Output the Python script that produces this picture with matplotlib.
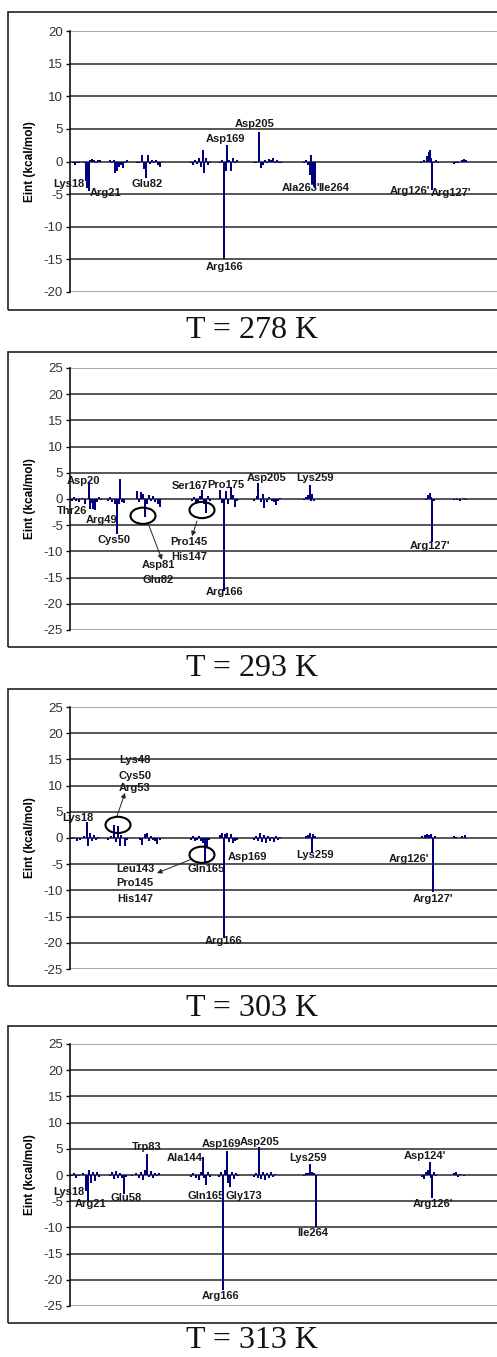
import matplotlib
matplotlib.use("Agg")
import matplotlib.pyplot as plt
from matplotlib.patches import Ellipse, Rectangle

plt.rcParams["font.family"] = ["Liberation Sans", "DejaVu Sans"]
plt.rcParams["axes.unicode_minus"] = False

# Residue slot positions (sequence order) and interaction energies, one set per temperature
pos_278 = [3, 5, 7, 9, 14, 16, 17, 19, 20, 22, 24, 26, 28, 30,
           40, 42, 44, 45, 47, 49, 51, 53, 55, 57,
           67, 69, 72, 74, 76, 78, 80, 82, 84, 86, 88, 90,
           121, 123, 125, 127, 129, 131, 133, 134, 136, 138, 140,
           150, 152, 154, 156, 157, 159, 161, 163, 165, 167,
           184, 186, 189, 191, 193, 195, 197, 199, 201, 203, 205, 207, 209, 211,
           234, 236, 238, 240, 241, 242, 244, 245,
           351, 354, 357, 359, 360, 361, 362, 364, 366, 368,
           384, 386, 388, 392, 394, 396]
val_278 = [-0.3, -0.5, -0.3, -0.2, -0.3, -3.0, -4.0, -4.5, 0.3, 0.4, 0.3, -0.3, 0.2, 0.3,
           0.3, -0.3, 0.3, -1.8, -1.5, -0.8, -0.5, -1.0, -0.3, 0.2,
           -0.2, -0.3, 1.0, -1.2, -2.6, 1.0, -0.4, 0.3, -0.2, 0.2, -0.5, -0.8,
           -0.3, -0.5, 0.3, -0.4, 0.5, -0.8, 1.8, -1.7, 0.5, -0.6, -0.3,
           -0.3, 0.3, -15.0, -1.5, 2.5, 0.3, -1.5, 0.6, -0.3, 0.2,
           -0.2, -0.3, 4.5, -1.0, -0.5, 0.3, -0.2, 0.4, 0.3, 0.6, -0.3, 0.2, -0.3, -0.2,
           -0.3, 0.2, -0.5, -2.0, 1.0, -3.5, -3.8, -4.0,
           -0.2, 0.3, 0.8, 1.5, 1.8, 0.6, -4.3, -0.3, 0.2, -0.2,
           -0.4, -0.3, -0.2, 0.2, 0.4, 0.2]

pos_293 = [2, 4, 6, 9, 12, 15, 19, 20, 22, 23, 25, 27, 29, 31,
           38, 40, 42, 45, 47, 49, 50, 52, 54,
           67, 69, 71, 73, 75, 77, 79, 81, 83, 85, 88, 90,
           122, 124, 126, 128, 130, 132, 134, 136, 138, 140,
           150, 152, 154, 156, 158, 161, 163, 165, 167,
           184, 187, 188, 191, 193, 194, 197, 199, 202, 204, 206, 208, 210,
           234, 236, 238, 240, 241, 242, 244,
           356, 358, 360, 361, 362, 364,
           384, 387, 390, 394, 396]
val_293 = [-0.3, 0.3, -0.3, -0.5, 0.2, -1.0, 3.2, -2.0, -0.8, -2.0, -2.1, -0.5, 0.3, -0.2,
           -0.3, 0.3, -0.5, -1.0, -6.7, -1.0, 3.8, -0.5, -0.8,
           1.5, -0.5, 1.3, 1.0, -3.4, -1.0, 0.8, -0.3, 0.5, -0.5, -1.0, -1.5,
           -0.3, 0.3, -0.5, -0.8, 0.5, 1.7, -1.0, -2.7, 0.5, -0.3,
           1.7, -0.8, -17.5, 1.5, -1.0, 2.2, 0.8, -1.5, -0.3,
           -0.3, 0.5, 3.0, -0.5, 1.0, -1.8, -0.5, 0.3, -0.3, -0.5, -1.2, -0.3, 0.2,
           -0.2, 0.3, 0.8, 2.7, -0.3, 1.0, -0.3,
           -0.2, 0.8, 1.2, 0.3, -8.2, -0.3,
           -0.2, -0.2, -0.3, 0.2, -0.2]

pos_303 = [2, 4, 7, 10, 14, 17, 18, 20, 22, 24, 26, 28,
           38, 41, 44, 46, 48, 50, 51, 55, 57,
           70, 72, 75, 77, 79, 81, 83, 85, 87, 90,
           121, 123, 125, 127, 129, 131, 133, 135, 137, 139,
           150, 152, 154, 155, 157, 159, 161, 163, 165, 167,
           184, 186, 188, 190, 192, 194, 196, 198, 200, 202, 204, 206, 208, 210,
           236, 238, 240, 242, 243, 245,
           352, 355, 357, 359, 361, 363, 365,
           384, 386, 392, 395]
val_303 = [-0.2, 0.2, -0.5, -0.3, 0.3, 3.0, -1.5, 1.0, -0.5, 0.5, -0.3, 0.2,
           -0.3, 0.3, 2.5, -0.8, 2.2, -1.5, 0.5, -1.6, -0.3,
           -0.3, -1.3, 0.8, 1.0, -0.5, 0.3, -0.3, -0.5, -1.2, -0.3,
           -0.3, 0.3, -0.5, -0.3, 0.3, -0.5, -1.0, -4.8, -2.0, -0.3,
           0.5, 1.0, -19.0, 0.8, 1.0, -0.8, 0.8, -1.0, -0.5, -0.3,
           -0.3, 0.3, -0.5, 1.0, -0.8, 0.5, -1.0, 0.3, -0.5, 0.2, -0.8, 0.3, -0.3, 0.2,
           0.3, 0.5, 1.0, -2.8, 0.8, 0.3,
           0.3, 0.5, 0.8, 0.5, 0.8, -10.3, 0.3,
           0.4, 0.2, 0.4, 0.6]

pos_313 = [2, 4, 6, 9, 13, 16, 18, 19, 21, 23, 25, 27, 29,
           40, 42, 44, 46, 48, 50, 52, 54, 56,
           62, 66, 69, 71, 73, 75, 77, 79, 81, 83, 85, 87, 89,
           121, 123, 126, 129, 131, 133, 134, 136, 138, 140,
           149, 151, 153, 155, 157, 158, 160, 162, 164, 166, 168,
           184, 186, 188, 189, 191, 193, 195, 197, 199, 201, 203, 205,
           234, 236, 238, 240, 242, 244, 246,
           352, 354, 356, 358, 360, 361, 362, 364, 366,
           384, 386, 388, 390, 394]
val_313 = [-0.2, 0.3, -0.5, -0.2, 0.3, -3.0, -5.0, 1.0, -1.5, 0.5, -1.2, 0.5, -0.3,
           -0.2, 0.5, -0.8, 0.8, -0.5, 0.3, -0.5, -3.6, -0.3,
           -0.2, 0.3, -0.5, 0.5, -1.0, 1.0, 4.0, -0.3, 0.8, -0.5, 0.3, -0.2, 0.3,
           -0.3, 0.3, -0.5, -1.0, 0.5, 3.4, -0.5, -2.0, 0.5, -0.3,
           -0.3, 0.5, -22.0, 1.0, 4.6, -1.5, -2.2, 0.5, -0.8, 0.3, -0.2,
           -0.3, 0.3, -0.5, 5.3, -0.8, 0.5, -1.0, 0.3, -0.5, 0.5, -0.3, 0.2,
           -0.2, 0.4, 0.4, 2.1, 0.6, 0.3, -10.0,
           -0.3, -0.8, 0.5, 1.0, 2.5, -0.5, -4.3, 0.5, -0.2,
           0.3, 0.5, -0.3, 0.2, -0.2]

temps = ["278", "293", "303", "313"]
y_limits = [20, 25, 25, 25]

# Residue labels: (name, slot, energy)
labels_278 = [("Lys18", -1, -3.4), ("Arg21", 36, -4.8), ("Glu82", 77, -3.4),
              ("Asp169", 155, 3.5), ("Arg166", 155, -16.1), ("Asp205", 185, 5.8),
              ("Ala263'", 231, -4.0), ("Ile264", 264, -4.0),
              ("Arg126'", 340, -4.5), ("Arg127'", 381, -4.8)]
labels_293 = [("Asp20", 13, 3.4), ("Thr26", 2, -2.2), ("Arg49", 32, -4.0),
              ("Cys50", 44, -7.8), ("Asp81", 88, -12.6), ("Glu82", 88, -15.5),
              ("Ser167", 120, 2.5), ("Pro175", 156, 2.7), ("Pro145", 119, -8.2),
              ("His147", 119, -11.1), ("Arg166", 155, -17.7), ("Asp205", 197, 4.0),
              ("Lys259", 245, 4.0), ("Arg127'", 360, -9.0)]
labels_303 = [("Lys18", 8, 3.8), ("Lys48", 65, 14.9), ("Cys50", 65, 11.8),
              ("Arg53", 65, 9.5), ("Leu143", 65, -5.9), ("Pro145", 65, -8.6),
              ("His147", 65, -11.6), ("Gln165", 136, -5.9), ("Asp169", 177, -3.6),
              ("Arg166", 154, -19.7), ("Lys259", 245, -3.2),
              ("Arg126'", 339, -4.0), ("Arg127'", 363, -11.6)]
labels_313 = [("Lys18", -1, -3.2), ("Arg21", 21, -5.5), ("Glu58", 56, -4.4),
              ("Trp83", 77, 5.3), ("Ala144", 115, 3.2), ("Gln165", 136, -4.0),
              ("Asp169", 151, 5.9), ("Gly173", 174, -4.0), ("Arg166", 151, -23.1),
              ("Asp205", 190, 6.3), ("Lys259", 238, 3.2), ("Ile264", 243, -11.1),
              ("Asp124'", 355, 3.6), ("Arg126'", 363, -5.5)]

# Circled groups and arrows pointing at their labels: (centre, arrow tail, arrow head)
circles_293 = [((73, -3.2), (78, -4.6), (92, -11.6)),
               ((132, -2.1), (127, -4.2), (122, -7.1))]
circles_303 = [((48, 2.5), (47, 4.2), (55, 8.6)),
               ((132, -3.2), (122, -4.0), (87, -6.7))]

positions = [pos_278, pos_293, pos_303, pos_313]
values = [val_278, val_293, val_303, val_313]
labels = [labels_278, labels_293, labels_303, labels_313]
circles = [[], circles_293, circles_303, []]

W, H = 497, 1357
fig = plt.figure(figsize=(W / 100, H / 100), dpi=100)
fig.patch.set_facecolor("white")

# pixel layout of each panel: (axes top, axes bottom, box top, box bottom, caption y)
layout = [(31, 292, 12, 310, 330),
          (368, 630, 352, 647, 669),
          (707, 969, 689, 986, 1008),
          (1044, 1306, 1026, 1323, 1340)]

ax_left, ax_right = 70, 500
bar_color = "#00007f"

for k in range(4):
    top, bot, btop, bbot, cap_y = layout[k]
    # box around each chart
    fig.patches.append(Rectangle((8 / W, 1 - bbot / H), (520 - 8) / W, (bbot - btop) / H,
                                 transform=fig.transFigure, fill=False,
                                 edgecolor="#222222", lw=1.2))
    ax = fig.add_axes([ax_left / W, 1 - bot / H, (ax_right - ax_left) / W, (bot - top) / H])
    lim = y_limits[k]
    ax.set_xlim(0, ax_right - ax_left)
    ax.set_ylim(-lim, lim)
    ax.set_yticks(range(-lim, lim + 1, 5))
    ax.set_xticks([])
    for t in range(-lim, lim + 1, 5):
        c = "#9a9a9a" if abs(t) == lim else "#3a3a3a"
        ax.axhline(t, color=c, lw=1.2, zorder=1)
    for s in ["top", "right", "bottom"]:
        ax.spines[s].set_visible(False)
    ax.spines["left"].set_color("#111111")
    ax.spines["left"].set_linewidth(1.2)
    ax.tick_params(axis="y", direction="out", length=3, width=1, colors="#111111",
                   labelsize=9.5, labelcolor="#333333", pad=2)
    ax.patch.set_alpha(0)

    ax.bar(positions[k], values[k], width=1.9, color=bar_color, zorder=3)

    for name, x, y in labels[k]:
        ax.text(x, y, name, ha="center", va="center", fontsize=8,
                fontweight="bold", color="#1a1a1a", clip_on=False, zorder=2)

    for (cx, cy), tail, head in circles[k]:
        ax.add_patch(Ellipse((cx, cy), 25, 3.1, fill=False, edgecolor="black",
                             lw=1.5, zorder=4))
        ax.annotate("", xy=head, xytext=tail,
                    arrowprops=dict(arrowstyle="-|>", color="#222222", lw=0.7,
                                    mutation_scale=7, shrinkA=0, shrinkB=0))

    ax.set_ylabel("Eint (kcal/mol)", fontsize=8.5, fontweight="bold")
    ax.yaxis.set_label_coords(-(ax_left - 36) / (ax_right - ax_left), 0.5)

    fig.text(252 / W, 1 - cap_y / H, "T = %s K" % temps[k], ha="center", va="center",
             fontsize=23, family="Liberation Serif", color="#111111")

fig.savefig("out.png", dpi=100, facecolor="white")
